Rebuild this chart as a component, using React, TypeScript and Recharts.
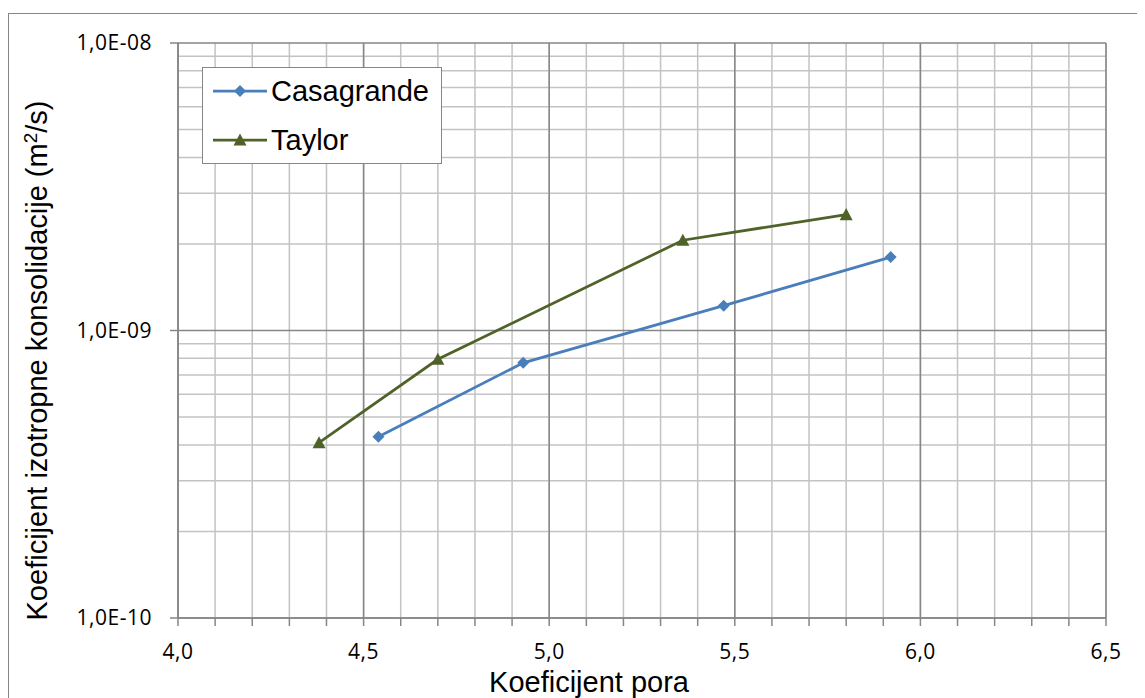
import React from 'react';
import { ScatterChart, Scatter, XAxis, YAxis, CartesianGrid, Legend } from 'recharts';

const casagrandeE = [4.54, 4.93, 5.47, 5.92];
const casagrandeCv = [4.27e-10, 7.72e-10, 1.22e-9, 1.8e-9];
const taylorE = [4.38, 4.7, 5.36, 5.8];
const taylorCv = [4.07e-10, 7.94e-10, 2.06e-9, 2.53e-9];

const xTicks = [4.0, 4.1, 4.2, 4.3, 4.4, 4.5, 4.6, 4.7, 4.8, 4.9, 5.0, 5.1, 5.2, 5.3, 5.4, 5.5, 5.6, 5.7, 5.8, 5.9, 6.0, 6.1, 6.2, 6.3, 6.4, 6.5];
const xMajor = [4.0, 4.5, 5.0, 5.5, 6.0, 6.5];
const yMajor = [1e-10, 1e-9, 1e-8];
const yMinor = [2e-10, 3e-10, 4e-10, 5e-10, 6e-10, 7e-10, 8e-10, 9e-10, 2e-9, 3e-9, 4e-9, 5e-9, 6e-9, 7e-9, 8e-9, 9e-9];

const seriesNames = ['Casagrande', 'Taylor'];
const BLUE = '#4a7ebb';
const GREEN = '#4f6228';
const GRID_MINOR = '#c3c3c3';
const GRID_MAJOR = '#868686';

const casagrandeData = casagrandeE.map((e, i) => ({ e, cv: casagrandeCv[i] }));
const taylorData = taylorE.map((e, i) => ({ e, cv: taylorCv[i] }));

const TICK_FONT = { fontFamily: '"Open Sans", sans-serif', fontSize: 21, fill: '#000', letterSpacing: 0.5 };
const TITLE_FONT = '"Liberation Sans", Arial, sans-serif';

const Diamond = (props: any) => {
  const { cx, cy, fill } = props;
  if (cx == null || cy == null) return null;
  const r = 6;
  return <polygon points={`${cx},${cy - r} ${cx + r},${cy} ${cx},${cy + r} ${cx - r},${cy}`} fill={fill} />;
};

const Triangle = (props: any) => {
  const { cx, cy, fill } = props;
  if (cx == null || cy == null) return null;
  const h = 6.5;
  return <polygon points={`${cx},${cy - h} ${cx + h},${cy + h * 0.85} ${cx - h},${cy + h * 0.85}`} fill={fill} />;
};

const xFmt = (v: number) => {
  const r = Math.round(v * 10);
  return r % 5 === 0 ? (r / 10).toFixed(1).replace('.', ',') : '';
};
const yFmt = (v: number) => '1,0E-' + String(-Math.round(Math.log10(v))).padStart(2, '0');

const renderLegend = () => (
  <div style={{ width: 240, height: 97, border: '1px solid #868686', background: '#fff', boxSizing: 'border-box' }}>
    <svg width={238} height={95}>
      {seriesNames.map((name, i) => {
        const y = 23 + i * 49;
        const color = i === 0 ? BLUE : GREEN;
        return (
          <g key={name}>
            <line x1={10} x2={64} y1={y} y2={y} stroke={color} strokeWidth={2.75} />
            {i === 0 ? <Diamond cx={37} cy={y} fill={color} /> : <Triangle cx={37} cy={y} fill={color} />}
            <text x={68} y={y + 10} fontFamily={TITLE_FONT} fontSize={29} fill="#000">{name}</text>
          </g>
        );
      })}
    </svg>
  </div>
);

const XTitle = (props: any) => {
  const { viewBox } = props;
  const cx = viewBox.x + viewBox.width / 2 - 53;
  return (
    <text x={cx} y={684} textAnchor="middle" fontFamily={TITLE_FONT} fontSize={29} fill="#000">
      Koeficijent pora
    </text>
  );
};

const YTitle = (props: any) => {
  const { viewBox } = props;
  const cy = viewBox.y + viewBox.height / 2 + 30;
  const x = 39;
  return (
    <text x={x} y={cy} transform={`rotate(-90 ${x} ${cy})`} textAnchor="middle" fontFamily={TITLE_FONT} fontSize={29} fill="#000">
      Koeficijent izotropne konsolidacije (m<tspan baselineShift="super" fontSize={19}>2</tspan>/s)
    </text>
  );
};

export default function App() {
  return (
    <div style={{ position: 'relative', width: 1137, height: 690, overflow: 'hidden', background: '#fff' }}>
      <div style={{ position: 'absolute', left: 0, top: 5, width: 1160, height: 720, border: '1px solid #868686', boxSizing: 'border-box' }} />
      <div style={{ position: 'absolute', left: 0, top: 0 }}>
        <ScatterChart width={1137} height={690} margin={{ top: 35, right: 39, bottom: 0, left: 0 }}>
          <CartesianGrid stroke={GRID_MINOR} strokeWidth={1.5} horizontalValues={yMinor} verticalValues={xTicks} />
          <CartesianGrid stroke={GRID_MAJOR} strokeWidth={1.5} horizontalValues={yMajor} verticalValues={xMajor} />
          <XAxis
            type="number"
            dataKey="e"
            domain={[4, 6.5]}
            ticks={xTicks}
            interval={0}
            tickFormatter={xFmt}
            tick={TICK_FONT}
            tickSize={8}
            tickMargin={18}
            axisLine={{ stroke: GRID_MAJOR, strokeWidth: 1.5 }}
            tickLine={{ stroke: GRID_MAJOR, strokeWidth: 1.5 }}
            height={80}
            label={<XTitle />}
            allowDataOverflow
          />
          <YAxis
            type="number"
            dataKey="cv"
            scale="log"
            domain={[1e-10, 1e-8]}
            ticks={yMajor}
            interval={0}
            tickFormatter={yFmt}
            tick={TICK_FONT}
            tickSize={8}
            tickMargin={18}
            axisLine={{ stroke: GRID_MAJOR, strokeWidth: 1.5 }}
            tickLine={{ stroke: GRID_MAJOR, strokeWidth: 1.5 }}
            width={170}
            label={<YTitle />}
            allowDataOverflow
          />
          <Legend
            layout="vertical"
            verticalAlign="middle"
            align="center"
            content={renderLegend}
            wrapperStyle={{ position: 'absolute', left: 194, top: 59, width: 240, height: 97 }}
          />
          <Scatter
            name={seriesNames[0]}
            data={casagrandeData}
            fill={BLUE}
            line={{ stroke: BLUE, strokeWidth: 2.75 }}
            shape={<Diamond />}
            isAnimationActive={false}
          />
          <Scatter
            name={seriesNames[1]}
            data={taylorData}
            fill={GREEN}
            line={{ stroke: GREEN, strokeWidth: 2.75 }}
            shape={<Triangle />}
            isAnimationActive={false}
          />
        </ScatterChart>
      </div>
    </div>
  );
}
